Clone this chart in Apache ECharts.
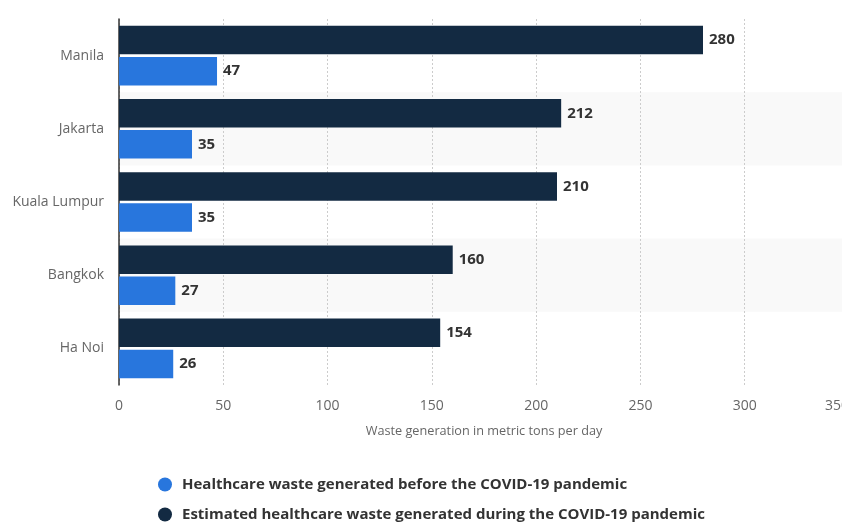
<!DOCTYPE html>
<html><head><meta charset="utf-8">
<script src="https://cdn.jsdelivr.net/npm/echarts@6/dist/echarts.min.js"></script>
<style>html,body{margin:0;padding:0;background:#fff}#c{width:842px;height:522px}</style>
</head><body><div id="c"></div>
<script>
const categories = ['Manila', 'Jakarta', 'Kuala Lumpur', 'Bangkok', 'Ha Noi'];
const duringCovid = [280, 212, 210, 160, 154];
const beforeCovid = [47, 35, 35, 27, 26];
const xTicks = [0, 50, 100, 150, 200, 250, 300, 350];
const seriesNames = ['Healthcare waste generated before the COVID-19 pandemic', 'Estimated healthcare waste generated during the COVID-19 pandemic'];
const xAxisName = 'Waste generation in metric tons per day';

const FONT = 'Open Sans';
const chart = echarts.init(document.getElementById('c'), null, {renderer: 'canvas'});
const labelCfg = {show: true, position: 'right', distance: 6, color: '#333', fontWeight: 'bold', fontSize: 15, fontFamily: FONT};
chart.setOption({
  animation: false,
  textStyle: {fontFamily: FONT},
  grid: {left: 119, top: 19, width: 730, height: 366, containLabel: false, outerBoundsMode: 'none'},
  legend: {
    orient: 'vertical', left: 158, top: 477, itemGap: 15, icon: 'circle', itemWidth: 24, itemHeight: 14,
    padding: 0, height: 60,
    data: seriesNames,
    textStyle: {color: '#333', fontWeight: 'bold', fontSize: 15, fontFamily: FONT}
  },
  xAxis: {
    type: 'value', min: xTicks[0], max: xTicks[xTicks.length - 1], interval: 50,
    name: xAxisName, nameLocation: 'middle', nameGap: 40,
    nameTextStyle: {color: '#666', fontSize: 12.7, fontFamily: FONT},
    axisLine: {show: false}, axisTick: {show: false},
    axisLabel: {color: '#666', fontSize: 14, margin: 14, fontFamily: FONT, alignMaxLabel: 'right'},
    splitLine: {show: true, lineStyle: {color: '#ccc', type: [2, 2], width: 1}}
  },
  yAxis: {
    type: 'category', data: categories, inverse: true,
    axisLine: {show: true, lineStyle: {color: '#333', width: 1.5}},
    axisTick: {show: false},
    axisLabel: {color: '#666', fontSize: 14, margin: 15, fontFamily: FONT},
    splitArea: {show: true, areaStyle: {color: ['rgba(0,0,0,0)', '#f9f9f9']}}
  },
  series: [
    {name: seriesNames[1], type: 'bar', data: duringCovid, barWidth: 28.5, barGap: '9%',
     itemStyle: {color: '#132a42'}, label: labelCfg},
    {name: seriesNames[0], type: 'bar', data: beforeCovid, barWidth: 28.5, barGap: '9%',
     itemStyle: {color: '#2876dd'}, label: labelCfg}
  ]
});
</script></body></html>
